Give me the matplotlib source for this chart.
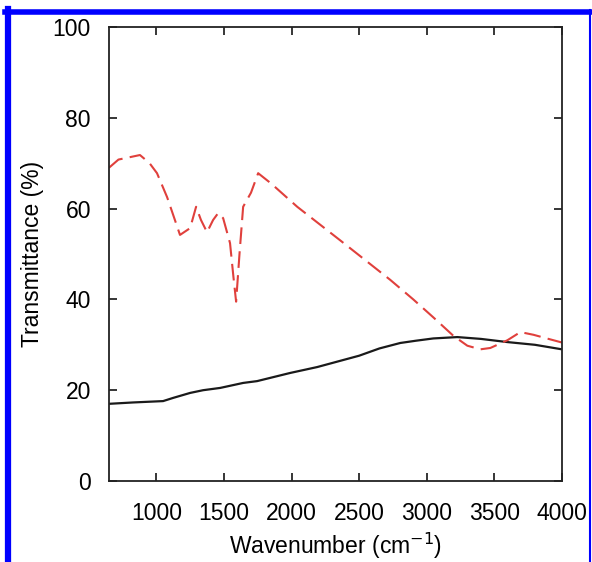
import numpy as np
import matplotlib
matplotlib.use("Agg")
import matplotlib.pyplot as plt
from matplotlib.lines import Line2D

plt.rcParams['font.family'] = ['Liberation Sans', 'DejaVu Sans']

# red dashed spectrum
red_x = [650, 720, 800, 879, 950, 1005, 1080, 1175, 1250, 1294, 1330, 1375, 1420, 1457,
         1494, 1545, 1570, 1590, 1615, 1642, 1700, 1753, 1850, 2042, 2360, 2730, 2900,
         3050, 3196, 3300, 3396, 3470, 3596, 3692, 3790, 3900, 4000]
red_y = [69.0, 70.8, 71.3, 71.8, 70.0, 67.8, 62.5, 54.2, 55.7, 60.4, 57.5, 54.8, 57.5, 59.0,
         57.9, 52.4, 45.0, 39.5, 50.0, 60.4, 63.5, 67.8, 65.5, 60.4, 53.0, 44.3, 40.0,
         36.0, 32.0, 29.8, 29.0, 29.3, 31.0, 32.8, 32.2, 31.3, 30.5]

# black solid spectrum
blk_x = [650, 828, 1050, 1124, 1250, 1346, 1472, 1642, 1745, 1990, 2190, 2500, 2650, 2804,
         2920, 3048, 3226, 3400, 3596, 3800, 4000]
blk_y = [17.0, 17.3, 17.6, 18.3, 19.4, 20.0, 20.5, 21.6, 22.0, 23.8, 25.1, 27.6, 29.2, 30.4,
         30.9, 31.4, 31.7, 31.3, 30.6, 30.0, 29.0]

xticks = [1000, 1500, 2000, 2500, 3000, 3500, 4000]
yticks = [0, 20, 40, 60, 80, 100]

fig = plt.figure(figsize=(5.92, 5.62), dpi=100)
ax = fig.add_axes([109/592, 81/562, 453/592, 454/562])

ax.plot(blk_x, blk_y, color='#1a1a1a', linewidth=1.6)
ax.plot(red_x, red_y, color='#e0403c', linewidth=1.5, dashes=(8, 3.5))

ax.set_xlim(650, 4000)
ax.set_ylim(0, 100)
ax.set_xticks(xticks)
ax.set_yticks(yticks)
ax.tick_params(direction='in', top=True, right=True, length=6, width=1.1,
               labelsize=16.5)
ax.tick_params(axis='x', pad=15)
ax.tick_params(axis='y', pad=13)
for s in ax.spines.values():
    s.set_linewidth(1.3)
    s.set_color('#222222')

ax.set_xlabel('Wavenumber (cm$^{-1}$)', fontsize=16.5, labelpad=4)
ax.set_ylabel('Transmittance (%)', fontsize=16.5, labelpad=6)

# blue frame around the figure
W, H = 592, 562
def px(x, y):
    return x / W, 1 - y / H
fig.add_artist(Line2D([px(8, 0)[0]] * 2, [px(0, 9)[1], 0], color='#0000ff', linewidth=4.5,
                      transform=fig.transFigure))
fig.add_artist(Line2D([px(5, 0)[0], px(591, 0)[0]], [px(0, 11.5)[1]] * 2, color='#0000ff',
                      linewidth=4.0, transform=fig.transFigure))
fig.add_artist(Line2D([px(590, 0)[0]] * 2, [px(0, 10)[1], 0], color='#0000ff', linewidth=1.5,
                      transform=fig.transFigure))

fig.savefig('out.png', dpi=100)
